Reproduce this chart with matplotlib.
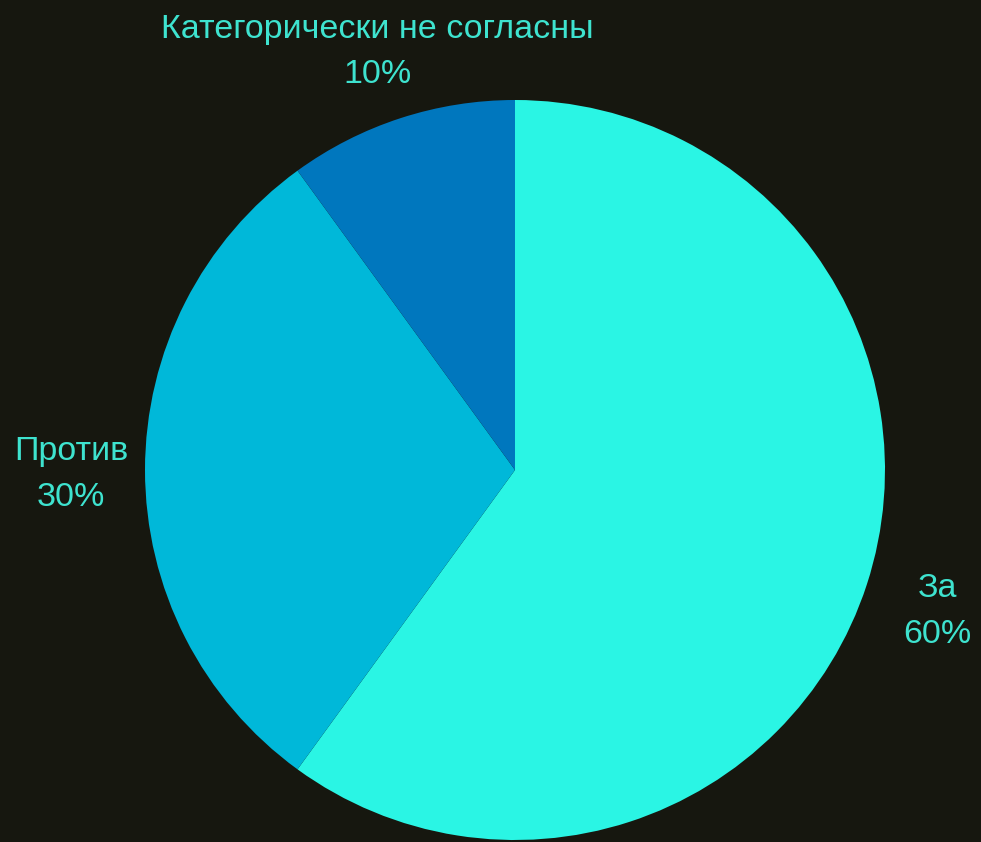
import matplotlib
matplotlib.use("Agg")
import matplotlib.pyplot as plt

labels = ["За", "Против", "Категорически не согласны"]
values = [60, 30, 10]
colors = ["#2af5e4", "#00b8d9", "#0077be"]

bg = "#16170f"
text_color = "#3ee3cf"

W, H = 981, 842
fig = plt.figure(figsize=(W / 100, H / 100), dpi=100, facecolor=bg)

# pie centre at (515, 470) px, radius 370 px
cx, cy, r = 515, 470, 370
ax = fig.add_axes([(cx - r) / W, (H - cy - r) / H, 2 * r / W, 2 * r / H])
ax.set_facecolor(bg)

wedges, texts = ax.pie(
    values,
    labels=[f"{l}\n{v}%" for l, v in zip(labels, values)],
    colors=colors,
    startangle=90,
    counterclock=False,
    labeldistance=1.2,
    radius=1,
    wedgeprops=dict(linewidth=0),
    textprops=dict(color=text_color, fontsize=24.5, family="Liberation Sans",
                   linespacing=1.6),
)
for t in texts:
    x, y = t.get_position()
    t.set_position((x, y - 0.012))
    t.set_horizontalalignment("center")
    t.set_verticalalignment("center")
    t.set_clip_on(False)

ax.set_xlim(-1, 1)
ax.set_ylim(-1, 1)
ax.set_aspect("equal")
ax.axis("off")

fig.savefig("out.png", dpi=100, facecolor=bg)
